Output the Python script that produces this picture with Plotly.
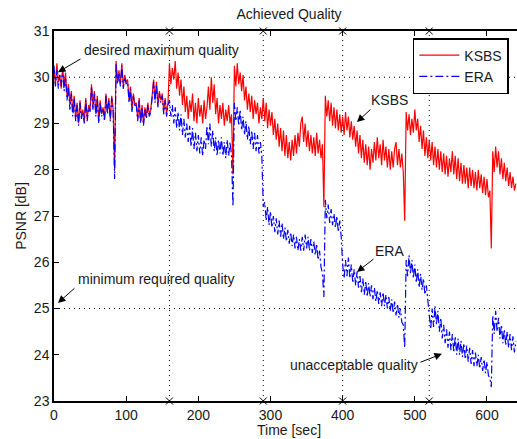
import plotly.graph_objects as go

# ---------------- data ----------------
time_sec = list(range(0, 641, 2))

ksbs_psnr = (
    # 0..84
    [30.15, 29.85, 30.3, 29.9, 30.05, 29.75, 30.25, 29.8, 30.1, 29.6, 29.85, 29.4, 29.7, 29.25, 29.6, 29.1,
     29.45, 29.0, 29.5, 29.15, 29.3, 29.05, 29.55, 29.1, 29.4, 29.3, 29.85, 29.35, 29.7, 29.2, 29.6, 29.05,
     29.5, 29.2, 29.35, 29.1, 29.65, 29.25, 29.55, 29.1, 29.6, 29.3, 28.0]
    # 86..158
    + [30.35, 29.9, 30.15, 29.85, 30.3, 29.8, 30.05, 29.9, 29.95, 29.5, 29.8, 29.3, 29.65, 29.4, 29.45, 29.1,
       29.55, 29.05, 29.4, 29.0, 29.35, 29.15, 29.45, 29.2, 29.3, 29.6, 29.95, 29.5, 29.9, 29.4, 29.7, 29.5,
       29.65, 29.25, 29.55, 29.2, 29.45]
    # 160..246
    + [30.3, 29.85, 30.2, 29.95, 30.35, 29.75, 30.1, 29.6, 29.95, 29.4, 29.8, 29.25, 29.6, 29.1, 29.5, 29.25,
       29.65, 29.05, 29.45, 29.0, 29.55, 29.15, 29.4, 29.0, 29.5, 29.1, 29.35, 29.8, 29.3, 30.0, 29.45, 29.85,
       29.2, 29.55, 29.0, 29.4, 29.1, 29.45, 28.95, 29.3, 29.05, 29.4, 29.0, 29.2]
    # 248
    + [27.9]
    # 250..372
    + [30.25, 29.8, 30.3, 29.85, 30.1, 29.7, 30.05, 29.5, 29.8, 29.3, 29.65, 29.25, 29.6, 29.1, 29.5, 29.2,
       29.45, 29.0, 29.35, 29.1, 29.55, 29.05, 29.45, 28.9, 29.3, 28.95, 29.25, 28.75, 29.1, 28.65, 29.0, 28.5,
       28.9, 28.4, 28.85, 28.3, 28.75, 28.25, 28.6, 28.2, 28.65, 28.3, 28.75, 28.35, 28.8, 28.5, 29.0, 29.15,
       28.6, 29.0, 28.5, 28.85, 28.4, 28.75, 28.35, 28.7, 28.3, 28.8, 28.35, 28.65, 28.25, 28.55]
    # 374
    + [27.2]
    # 376..484
    + [29.6, 29.15, 29.5, 29.05, 29.45, 28.95, 29.35, 28.9, 29.3, 28.85, 29.2, 28.8, 29.15, 28.75, 29.25, 28.85,
       29.15, 28.7, 29.05, 28.65, 28.95, 28.5, 28.85, 28.35, 28.75, 28.25, 28.65, 28.15, 28.55, 28.1, 28.5, 28.0,
       28.45, 28.15, 28.6, 28.2, 28.7, 28.25, 28.55, 28.1, 28.65, 28.2, 28.5, 28.05, 28.45, 28.0, 28.4, 28.05,
       28.45, 28.6, 28.1, 28.45, 28.05, 28.35, 27.95]
    # 486
    + [26.9]
    # 488..604
    + [29.25, 28.85, 29.2, 28.75, 29.1, 28.8, 29.3, 28.85, 29.1, 28.6, 28.95, 28.45, 28.85, 28.3, 28.7, 28.25,
       28.65, 28.2, 28.6, 28.1, 28.5, 28.05, 28.45, 28.0, 28.4, 27.95, 28.35, 27.9, 28.3, 27.85, 28.25, 27.95,
       28.4, 27.9, 28.3, 27.8, 28.25, 27.75, 28.15, 27.7, 28.1, 27.7, 28.05, 27.6, 28.05, 27.65, 28.0, 27.6,
       27.95, 27.55, 28.0, 27.6, 27.9, 27.5, 27.85, 27.45, 27.8, 27.4, 27.55]
    # 606
    + [26.3]
    # 608..640
    + [28.4, 27.95, 28.5, 28.05, 28.4, 27.9, 28.25, 27.8, 28.15, 27.75, 28.05, 27.65, 27.95, 27.6, 27.85, 27.55,
       27.7]
)

era_psnr = (
    # 0..84
    [30.25, 29.8, 30.15, 29.75, 30.05, 29.8, 30.2, 29.7, 30.0, 29.5, 29.8, 29.3, 29.65, 29.15, 29.55, 29.05,
     29.4, 28.95, 29.45, 29.1, 29.25, 29.0, 29.5, 29.05, 29.35, 29.25, 29.8, 29.3, 29.65, 29.15, 29.55, 29.0,
     29.45, 29.15, 29.3, 29.05, 29.6, 29.2, 29.5, 29.05, 29.55, 29.25, 27.8]
    # 86..158
    + [30.3, 29.85, 30.1, 29.8, 30.25, 29.75, 30.0, 29.85, 29.9, 29.45, 29.75, 29.25, 29.6, 29.35, 29.4, 29.05,
       29.5, 29.0, 29.35, 28.95, 29.3, 29.1, 29.4, 29.15, 29.25, 29.55, 29.9, 29.45, 29.85, 29.35, 29.65, 29.45,
       29.6, 29.2, 29.5, 29.15, 29.4]
    # 160..246
    + [29.5, 29.15, 29.4, 29.0, 29.35, 28.9, 29.25, 28.85, 29.2, 28.75, 29.1, 28.7, 29.0, 28.6, 28.95, 28.5,
       28.9, 28.45, 28.8, 28.4, 28.75, 28.35, 28.7, 28.3, 28.65, 28.45, 28.95, 28.55, 29.0, 28.5, 28.85, 28.4,
       28.7, 28.3, 28.65, 28.35, 28.7, 28.3, 28.6, 28.25, 28.65, 28.3, 28.6, 28.3]
    # 248
    + [27.2]
    # 250..288
    + [29.45, 29.05, 29.35, 28.95, 29.3, 28.85, 29.15, 28.75, 29.05, 28.65, 28.95, 28.55, 28.85, 28.45, 28.8, 28.4,
       28.75, 28.35, 28.6, 28.3]
    # 290..372
    + [27.2, 27.3, 26.9, 27.2, 26.8, 27.1, 26.75, 27.0, 26.65, 26.95, 26.6, 26.9, 26.55, 26.85, 26.5, 26.75,
       26.45, 26.7, 26.4, 26.65, 26.35, 26.6, 26.3, 26.55, 26.25, 26.5, 26.25, 26.55, 26.25, 26.6, 26.3, 26.55,
       26.25, 26.5, 26.2, 26.45, 26.15, 26.4, 26.05, 26.25, 25.9, 25.75]
    # 374
    + [25.25]
    # 376..398
    + [27.35, 26.95, 27.25, 26.85, 27.15, 26.8, 27.05, 26.75, 27.0, 26.65, 26.9, 26.55]
    # 400..484
    + [25.95, 25.65, 26.05, 25.7, 26.1, 25.65, 25.95, 25.55, 25.85, 25.5, 25.8, 25.45, 25.7, 25.35, 25.65, 25.3,
       25.6, 25.25, 25.55, 25.25, 25.5, 25.2, 25.45, 25.15, 25.4, 25.1, 25.35, 25.05, 25.35, 25.05, 25.3, 25.0,
       25.25, 24.95, 25.2, 24.9, 25.15, 24.85, 25.1, 24.8, 25.0, 24.7, 24.65]
    # 486
    + [24.15]
    # 488..518
    + [26.05, 25.7, 26.15, 25.75, 26.05, 25.65, 25.95, 25.55, 25.85, 25.45, 25.75, 25.4, 25.65, 25.3, 25.5, 25.2]
    # 520..604
    + [24.85, 24.55, 25.0, 24.6, 25.05, 24.65, 24.95, 24.5, 24.8, 24.35, 24.65, 24.25, 24.55, 24.15, 24.5, 24.1,
       24.45, 24.05, 24.4, 24.0, 24.35, 24.0, 24.3, 23.95, 24.25, 23.9, 24.2, 23.85, 24.15, 23.8, 24.1, 23.75,
       24.05, 23.75, 24.0, 23.7, 23.95, 23.65, 23.9, 23.6, 23.85, 23.55, 23.5]
    # 606
    + [23.3]
    # 608..640
    + [24.85, 24.45, 24.95, 24.5, 24.8, 24.35, 24.65, 24.25, 24.55, 24.2, 24.5, 24.15, 24.45, 24.1, 24.4, 24.05,
       24.3]
)

assert len(ksbs_psnr) == len(time_sec), (len(ksbs_psnr), len(time_sec))
assert len(era_psnr) == len(time_sec), (len(era_psnr), len(time_sec))

event_times = [160, 290, 400, 520]
quality_levels = [25, 30]
x_ticks = [0, 100, 200, 300, 400, 500, 600]
y_ticks = [23, 24, 25, 26, 27, 28, 29, 30, 31]
x_range = [0, 641.6]
y_range = [23, 31]

FONT = "Liberation Sans, Arial, Helvetica, sans-serif"
TXT = "#1a1a1a"

fig = go.Figure()

fig.add_trace(go.Scatter(
    x=time_sec, y=ksbs_psnr, mode="lines", name="KSBS",
    line=dict(color="#ff0000", width=1.2),
))
fig.add_trace(go.Scatter(
    x=time_sec, y=era_psnr, mode="lines", name="ERA",
    line=dict(color="#0000ff", width=1.2, dash="8px,3px,2px,3px"),
))

# event markers on top and bottom axes
fig.add_trace(go.Scatter(
    x=event_times + event_times,
    y=[y_range[1]] * len(event_times) + [y_range[0]] * len(event_times),
    mode="markers", showlegend=False, cliponaxis=False, hoverinfo="skip",
    marker=dict(symbol="x-thin", size=7, line=dict(color="black", width=1)),
))

# dotted reference lines
for t in event_times:
    fig.add_shape(type="line", xref="x", yref="y", x0=t, x1=t, y0=y_range[0], y1=y_range[1],
                  line=dict(color="black", width=1, dash="1px,4px"), layer="below")
for q in quality_levels:
    fig.add_shape(type="line", xref="x", yref="y", x0=x_range[0], x1=x_range[1], y0=q, y1=q,
                  line=dict(color="black", width=1, dash="1px,4px"), layer="below")

# annotations: (text, text_x, text_y, tip_x, tip_y, tail_dx_px, tail_dy_px)
notes = [
    ("desired maximum quality", 148.6, 30.59, 5.5, 30.11, 24, -14),
    ("KSBS", 465.6, 29.51, 419.8, 29.03, 15, -14),
    ("ERA", 464.9, 26.24, 419.8, 25.79, 18, -14),
    ("minimum required quality", 141.3, 25.64, 5.5, 25.12, 18, -16),
    ("unacceptable quality", 415.7, 23.78, 537.6, 24.02, -23, 9),
]
for txt, tx, ty, px, py, dx, dy in notes:
    fig.add_annotation(x=tx, y=ty, xref="x", yref="y", text=txt, showarrow=False,
                       font=dict(family=FONT, size=14, color=TXT))
    fig.add_annotation(x=px, y=py, xref="x", yref="y", text="", showarrow=True,
                       ax=dx, ay=dy, axref="pixel", ayref="pixel",
                       arrowhead=2, arrowsize=1.5, arrowwidth=1, arrowcolor="black")

# x-axis label placed as paper annotation for exact vertical position
fig.add_annotation(x=(289 - 54) / 463, y=-(430 - 401) / 370, xref="paper", yref="paper",
                   text="Time [sec]", showarrow=False, xanchor="center", yanchor="middle",
                   font=dict(family=FONT, size=14, color=TXT))

fig.update_layout(
    width=517, height=439,
    margin=dict(l=54, r=0, t=31, b=38),
    paper_bgcolor="white", plot_bgcolor="white",
    font=dict(family=FONT, size=14, color=TXT),
    title=dict(text="Achieved Quality", x=(289 / 517), xanchor="center", y=1 - 14 / 439,
               yanchor="middle", font=dict(family=FONT, size=14, color=TXT)),
    showlegend=True,
    legend=dict(x=0.775, xanchor="left", y=0.981, yanchor="top",
                bordercolor="black", borderwidth=1.5, bgcolor="white",
                font=dict(family=FONT, size=14, color=TXT), itemwidth=40,
                tracegroupgap=0),
    xaxis=dict(range=x_range, tickvals=x_ticks, ticks="inside", ticklen=5, tickwidth=1,
               tickcolor="black", showline=True, linecolor="black", linewidth=1.5,
               mirror="ticks", showgrid=False, zeroline=False,
               tickfont=dict(size=14)),
    yaxis=dict(range=y_range, tickvals=y_ticks, ticks="inside", ticklen=5, tickwidth=1,
               tickcolor="black", showline=True, linecolor="black", linewidth=1.5,
               mirror=False, showgrid=False, zeroline=False,
               title=dict(text="PSNR [dB]", standoff=4, font=dict(size=14)),
               tickfont=dict(size=14)),
)

fig.write_html("out.html")
